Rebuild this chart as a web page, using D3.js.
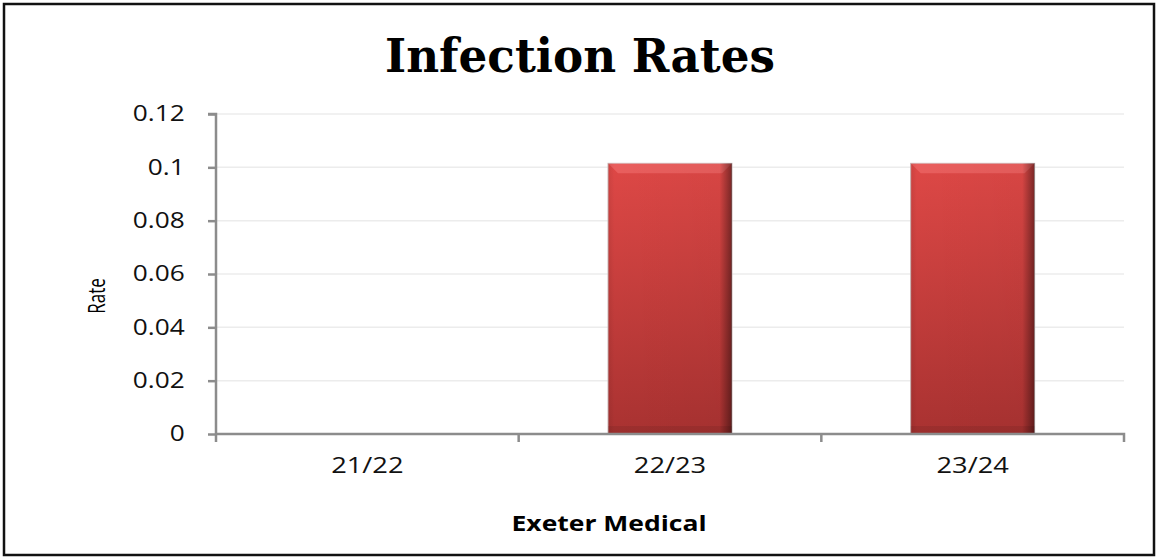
<!DOCTYPE html>
<html lang="en">
<head>
    <meta charset="UTF-8">
    <title>Infection Rates</title>
    <script src="https://d3js.org/d3.v7.min.js"></script>
</head>
<style type="text/css">
    body { margin: 0; background: white; }
    svg { display: block; }
</style>
<body>
<div id="chart"></div>
<script>
    var width = 1158;
    var height = 558;

    // data
    var years = ["21/22", "22/23", "23/24"];
    var rates = [0, 0.1015, 0.1015];
    var yTicks = [0, 0.02, 0.04, 0.06, 0.08, 0.1, 0.12];

    var plotLeft = 216, plotRight = 1124, plotTop = 114, plotBottom = 434;
    var axisColor = "#8c8c8c";
    var labelFont = "'Open Sans', 'Liberation Sans', sans-serif";

    var svg = d3.select("#chart").append("svg")
        .attr("width", width).attr("height", height);

    var defs = svg.append("defs");
    var grad = defs.append("linearGradient").attr("id", "barFill")
        .attr("x1", 0).attr("y1", 0).attr("x2", 0).attr("y2", 1);
    grad.append("stop").attr("offset", "0%").attr("stop-color", "#de4846");
    grad.append("stop").attr("offset", "100%").attr("stop-color", "#a93231");

    var side = defs.append("linearGradient").attr("id", "barSide")
        .attr("x1", 0).attr("y1", 0).attr("x2", 1).attr("y2", 0);
    side.append("stop").attr("offset", "0%").attr("stop-color", "#000").attr("stop-opacity", 0.08);
    side.append("stop").attr("offset", "5%").attr("stop-color", "#000").attr("stop-opacity", 0.0);
    side.append("stop").attr("offset", "90%").attr("stop-color", "#000").attr("stop-opacity", 0.03);
    side.append("stop").attr("offset", "100%").attr("stop-color", "#000").attr("stop-opacity", 0.45);

    // outer frame
    svg.append("rect")
        .attr("x", 4).attr("y", 4)
        .attr("width", 1150).attr("height", 551)
        .style("fill", "white")
        .style("stroke", "#111")
        .style("stroke-width", 2.5);

    var x = d3.scaleBand().domain(years).range([plotLeft, plotRight]);
    var y = d3.scaleLinear().domain([0, 0.12]).range([plotBottom, plotTop]);

    // grid lines
    svg.append("g").selectAll("line").data(yTicks.slice(1)).enter()
        .append("line")
        .attr("x1", plotLeft).attr("x2", plotRight)
        .attr("y1", function (d) { return y(d); })
        .attr("y2", function (d) { return y(d); })
        .style("stroke", "#ececec")
        .style("stroke-width", 1.5);

    // bars
    var barW = 124;
    var bars = svg.append("g").selectAll("g.bar").data(rates).enter()
        .append("g").attr("class", "bar");

    bars.each(function (d, i) {
        if (d <= 0) return;
        var g = d3.select(this);
        var x0 = x(years[i]) + x.bandwidth() / 2 - barW / 2;
        var y0 = y(d), h = y(0) - y(d);
        g.append("rect")
            .attr("x", x0).attr("y", y0).attr("width", barW).attr("height", h)
            .style("fill", "url(#barFill)")
            .style("stroke", "#cbb8b8")
            .style("stroke-width", 1);
        // top bevel highlight
        g.append("path")
            .attr("d", "M" + x0 + "," + y0 + "L" + (x0 + barW) + "," + y0 +
                "L" + (x0 + barW - 10) + "," + (y0 + 10) + "L" + (x0 + 10) + "," + (y0 + 10) + "Z")
            .style("fill", "#ff8a8a").style("opacity", 0.35);
        // side shading
        g.append("rect")
            .attr("x", x0).attr("y", y0).attr("width", barW).attr("height", h)
            .style("fill", "url(#barSide)");
        // bottom shadow
        g.append("rect")
            .attr("x", x0).attr("y", y0 + h - 8).attr("width", barW).attr("height", 8)
            .style("fill", "#000").style("opacity", 0.08);
    });

    // y axis
    var yAxis = d3.axisLeft(y).tickValues(yTicks)
        .tickFormat(function (d) { return String(+d.toFixed(2)); })
        .tickSize(8).tickPadding(17);
    var gy = svg.append("g").attr("transform", "translate(" + plotLeft + ",0)").call(yAxis);
    gy.select(".domain").attr("d", "M-8," + plotTop + "H0V" + (plotBottom + 8))
        .style("stroke", axisColor).style("stroke-width", 2.5);
    gy.selectAll(".tick line").style("stroke", axisColor).style("stroke-width", 2.5);
    gy.selectAll(".tick text")
        .attr("transform", "scale(1.25,1)")
        .style("font-family", labelFont)
        .style("font-size", "21px").style("fill", "#111");

    // x axis
    var xAxis = d3.axisBottom(x).tickSize(0).tickPadding(24);
    var gx = svg.append("g").attr("transform", "translate(0," + plotBottom + ")").call(xAxis);
    gx.select(".domain").attr("d", "M" + plotLeft + ",0H" + plotRight + "V8")
        .style("stroke", axisColor).style("stroke-width", 2.5);
    gx.selectAll(".tick text")
        .attr("transform", "scale(1.3,1)")
        .style("font-family", labelFont)
        .style("font-size", "21px").style("fill", "#111");
    gx.append("g").selectAll("line").data(years.slice(1)).enter()
        .append("line")
        .attr("x1", function (d) { return x(d); })
        .attr("x2", function (d) { return x(d); })
        .attr("y1", 0).attr("y2", 8)
        .style("stroke", axisColor).style("stroke-width", 2.5);

    // title
    svg.append("text")
        .attr("x", 580).attr("y", 72)
        .attr("text-anchor", "middle")
        .attr("textLength", 390).attr("lengthAdjust", "spacingAndGlyphs")
        .style("font-family", "'DejaVu Serif', 'Liberation Serif', serif")
        .style("font-weight", "bold")
        .style("font-size", "47px")
        .style("fill", "#000")
        .text("Infection Rates");

    // axis titles
    svg.append("text")
        .attr("transform", "translate(105,296) scale(1.4,1) rotate(-90)")
        .attr("text-anchor", "middle")
        .style("font-family", labelFont)
        .style("font-size", "17px")
        .style("fill", "#000")
        .text("Rate");

    svg.append("text")
        .attr("x", 609).attr("y", 531)
        .attr("text-anchor", "middle")
        .attr("textLength", 195).attr("lengthAdjust", "spacingAndGlyphs")
        .style("font-family", labelFont)
        .style("font-weight", "bold")
        .style("font-size", "22px")
        .style("fill", "#000")
        .text("Exeter Medical");
</script>
</body>
</html>
